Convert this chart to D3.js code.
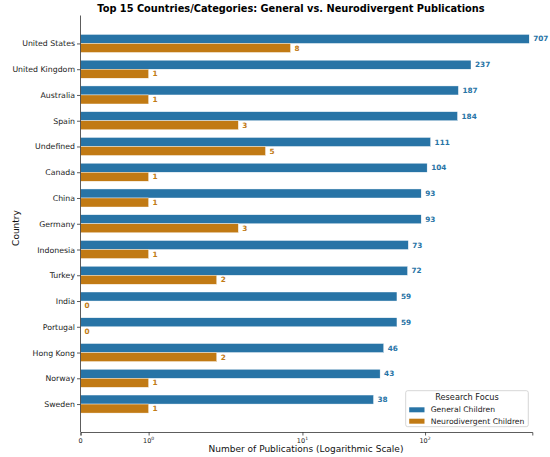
<!DOCTYPE html>
<html>
<head>
<meta charset="utf-8">
<script src="https://cdn.jsdelivr.net/npm/d3@7"></script>
<style>
  body { margin: 0; background: #fff; }
  text { font-family: "DejaVu Sans", sans-serif; }
</style>
</head>
<body>
<script>
// chart values
var countries = ["United States","United Kingdom","Australia","Spain","Undefined","Canada","China","Germany","Indonesia","Turkey","India","Portugal","Hong Kong","Norway","Sweden"];
var generalCounts = [707,237,187,184,111,104,93,93,73,72,59,59,46,43,38];
var neuroCounts = [8,1,1,3,5,1,1,3,1,2,0,0,2,1,1];
var xTickValues = [0,1,10,100];
var seriesNames = ["General Children","Neurodivergent Children"];

var blue = "#2874a6", orange = "#c17a14";

var svg = d3.select("body").append("svg")
        .attr("width",550)
        .attr("height",457);

// matplotlib style symlog (linthresh 2, linscale 1, base 10)
function symlogT(v){
  var T = 2, adj = 1/(1-1/10);
  var a = Math.abs(v);
  if(a <= T) return v*adj;
  return Math.sign(v)*T*(adj + Math.log10(a/T));
}

var xMax = d3.max(generalCounts)*1.06;
var xLin = d3.scaleLinear()
        .domain([0, symlogT(xMax)])
        .range([80.5, 532.3]);
var x = function(v){ return xLin(symlogT(v)); };

var barH = 0.35;
var pad = (countries.length-1 + 2*barH)*0.05;
var y = d3.scaleLinear()
        .domain([-barH-pad, countries.length-1+barH+pad])
        .range([15.5, 432]);

// general bars (upper half of each pair)
svg.selectAll("rect.gen")
        .data(generalCounts)
        .enter().append("rect")
                .attr("class","gen")
                .attr("x", x(0))
                .attr("y", function(d,i){ return y(i-barH); })
                .attr("width", function(d){ return x(d)-x(0); })
                .attr("height", function(d,i){ return y(i)-y(i-barH); })
                .attr("fill", blue)
                .attr("stroke","#fff")
                .attr("stroke-width",0.4);

// neurodivergent bars
svg.selectAll("rect.neu")
        .data(neuroCounts)
        .enter().append("rect")
                .attr("class","neu")
                .attr("x", x(0))
                .attr("y", function(d,i){ return y(i); })
                .attr("width", function(d){ return x(d)-x(0); })
                .attr("height", function(d,i){ return y(i+barH)-y(i); })
                .attr("fill", orange)
                .attr("stroke","#fff")
                .attr("stroke-width",0.4);

// value labels
svg.selectAll("text.genlab")
        .data(generalCounts)
        .enter().append("text")
                .attr("x", function(d){ return x(d)+4; })
                .attr("y", function(d,i){ return y(i-barH/2); })
                .attr("dy","0.35em")
                .attr("font-size","7.3px")
                .attr("font-weight","bold")
                .attr("fill", blue)
                .text(function(d){ return d; });

svg.selectAll("text.neulab")
        .data(neuroCounts)
        .enter().append("text")
                .attr("x", function(d){ return x(d)+4; })
                .attr("y", function(d,i){ return y(i+barH/2); })
                .attr("dy","0.35em")
                .attr("font-size","7.3px")
                .attr("font-weight","bold")
                .attr("fill", orange)
                .text(function(d){ return d; });

// x axis
var xAxis = d3.axisBottom(xLin)
        .tickValues(xTickValues.map(symlogT))
        .tickSize(3.5)
        .tickFormat("");
var gx = svg.append("g")
        .attr("transform","translate(0,432)")
        .call(xAxis);
gx.select(".domain").attr("stroke","#333").attr("stroke-width",0.8);
gx.selectAll(".tick line").attr("stroke","#333").attr("stroke-width",0.8);

var xt = svg.selectAll("text.xt")
        .data(xTickValues)
        .enter().append("text")
                .attr("x", function(d){ return x(d); })
                .attr("y", 443)
                .attr("text-anchor","middle")
                .attr("font-size","6.5px")
                .attr("fill","#222");
xt.each(function(d){
  var t = d3.select(this);
  if(d === 0){ t.text("0"); return; }
  t.append("tspan").text("10");
  t.append("tspan").attr("font-size","4.5px").attr("dy","-2.6").text(Math.round(Math.log10(d)));
});

// y axis
var gy = svg.append("g")
        .attr("transform","translate(80.5,0)")
        .call(d3.axisLeft(y).tickValues(d3.range(countries.length)).tickSize(3.5)
        .tickFormat(function(d){ return countries[d]; }));
gy.select(".domain").attr("d","M0,15.5V432").attr("stroke","#333").attr("stroke-width",0.8);
gy.selectAll(".tick line").attr("stroke","#333").attr("stroke-width",0.8);
gy.selectAll(".tick text")
        .attr("font-family","DejaVu Sans")
        .attr("font-size","7.8px")
        .attr("fill","#222")
        .attr("x",-5.5);

// titles
svg.append("text")
        .attr("x",291).attr("y",12)
        .attr("text-anchor","middle")
        .attr("font-size","9.8px")
        .attr("font-weight","bold")
        .text("Top 15 Countries/Categories: General vs. Neurodivergent Publications");

svg.append("text")
        .attr("x",306).attr("y",452)
        .attr("text-anchor","middle")
        .attr("font-size","9px")
        .attr("fill","#111")
        .text("Number of Publications (Logarithmic Scale)");

svg.append("text")
        .attr("transform","translate(19,228) rotate(-90)")
        .attr("text-anchor","middle")
        .attr("font-size","9px")
        .attr("fill","#111")
        .text("Country");

// legend
var lg = svg.append("g").attr("transform","translate(405.7,390.7)");
lg.append("rect")
        .attr("width",122.6).attr("height",36)
        .attr("rx",2)
        .attr("fill","#fff").attr("fill-opacity",0.85)
        .attr("stroke","#ccc").attr("stroke-width",0.8);
lg.append("text")
        .attr("x",61.3).attr("y",9.3)
        .attr("text-anchor","middle")
        .attr("font-size","8.2px")
        .attr("fill","#222")
        .text("Research Focus");
lg.selectAll("rect.sw")
        .data(seriesNames)
        .enter().append("rect")
                .attr("x",3.5)
                .attr("y",function(d,i){ return 16.6 + i*11.4; })
                .attr("width",15.3).attr("height",5)
                .attr("fill",function(d,i){ return i===0 ? blue : orange; });
lg.selectAll("text.lt")
        .data(seriesNames)
        .enter().append("text")
                .attr("x",25)
                .attr("y",function(d,i){ return 18.9 + i*11.4; })
                .attr("dy","0.35em")
                .attr("font-size","7.65px")
                .attr("fill","#222")
                .text(function(d){ return d; });
</script>
</body>
</html>
